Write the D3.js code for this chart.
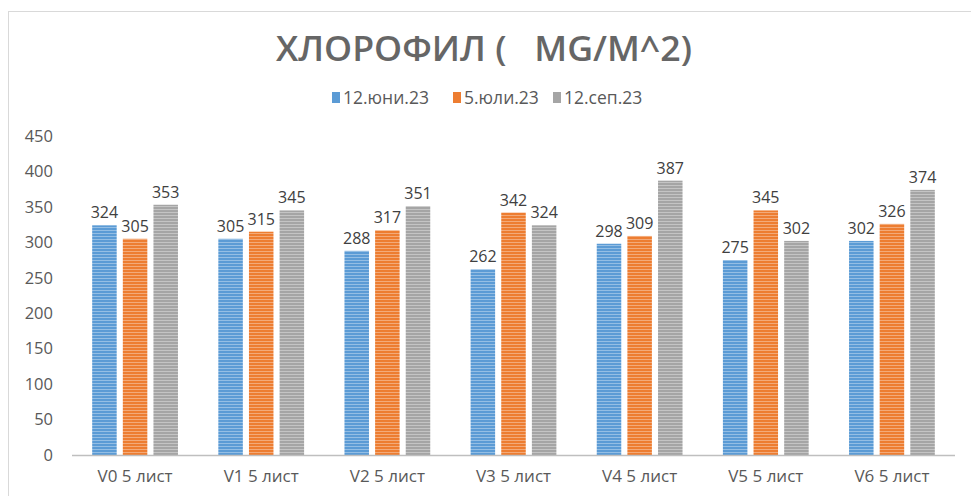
<!DOCTYPE html>
<html><head><meta charset="utf-8">
<script src="https://cdn.jsdelivr.net/npm/d3@7"></script>
<style>body{margin:0;background:#fff;} svg{display:block;}</style>
</head><body>
<svg id="c" width="971" height="496"></svg>
<script>
const categories = ["V0 5 лист","V1 5 лист","V2 5 лист","V3 5 лист","V4 5 лист","V5 5 лист","V6 5 лист"];
const seriesNames = ["12.юни.23","5.юли.23","12.сеп.23"];
const june = [324,305,288,262,298,275,302];
const july = [305,315,317,342,309,345,326];
const sept = [353,345,351,324,387,302,374];
const yTicks = [0,50,100,150,200,250,300,350,400,450];
const colors = ["#5B9BD5","#ED7D31","#A5A5A5"];
const series = [june, july, sept];

const svg = d3.select("#c");
const font = "'Open Sans', sans-serif";
const textCol = "#595959";

// border
svg.append("rect").attr("x",8.5).attr("y",11.5).attr("width",990).attr("height",500)
  .attr("fill","none").attr("stroke","#d9d9d9");

// patterns
const defs = svg.append("defs");
colors.forEach((c,i)=>{
  const p = defs.append("pattern").attr("id","p"+i).attr("patternUnits","userSpaceOnUse")
    .attr("width",6).attr("height",3);
  p.append("rect").attr("width",6).attr("height",3).attr("fill",c);
  p.append("rect").attr("y",2).attr("width",6).attr("height",1).attr("fill","#fff").attr("opacity",0.35);
});

const x0 = d3.scaleBand().domain(categories).range([72,955]).paddingInner(0.32).paddingOuter(0.16);
const x1 = d3.scaleBand().domain([0,1,2]).range([0,x0.bandwidth()]).paddingInner(0.2);
const y = d3.scaleLinear().domain([0,450]).range([455,136]);

// y labels
svg.append("g").selectAll("text").data(yTicks).join("text")
  .attr("x",53).attr("y",d=>y(d)).attr("dy","0.35em").attr("text-anchor","end")
  .attr("font-family",font).attr("font-size",16.5).attr("fill",textCol).text(d=>d);

// bars
const g = svg.append("g");
categories.forEach((cat,ci)=>{
  series.forEach((s,si)=>{
    const xx = x0(cat)+x1(si);
    g.append("rect").attr("x",xx).attr("y",y(s[ci])).attr("width",x1.bandwidth())
      .attr("height",y(0)-y(s[ci])).attr("fill",`url(#p${si})`);
    g.append("text").attr("x",xx+x1.bandwidth()/2).attr("y",y(s[ci])-7)
      .attr("text-anchor","middle").attr("font-family",font).attr("font-size",16)
      .attr("fill","#404040").text(s[ci]);
  });
});

// x axis
svg.append("line").attr("x1",72).attr("x2",955).attr("y1",y(0)+0.5).attr("y2",y(0)+0.5)
  .attr("stroke","#bfbfbf").attr("stroke-width",1.5);
svg.append("g").selectAll("text").data(categories).join("text")
  .attr("x",d=>x0(d)+x0.bandwidth()/2).attr("y",482).attr("text-anchor","middle")
  .attr("font-family",font).attr("font-size",17).attr("fill",textCol).text(d=>d);

// title
svg.append("text").attr("x",276).attr("y",61)
  .attr("font-family",font).attr("font-weight",600).attr("font-size",34)
  .attr("textLength",416).attr("lengthAdjust","spacingAndGlyphs")
  .attr("fill","#666").attr("xml:space","preserve").text("ХЛОРОФИЛ (   MG/M^2)");

// legend
const legX = [332,453,553];
seriesNames.forEach((n,i)=>{
  svg.append("rect").attr("x",legX[i]).attr("y",92).attr("width",8).attr("height",11).attr("fill",colors[i]);
  svg.append("text").attr("x",legX[i]+11).attr("y",103.5).attr("font-family",font)
    .attr("font-size",17.5).attr("fill",textCol).text(n);
});
</script>
</body></html>
